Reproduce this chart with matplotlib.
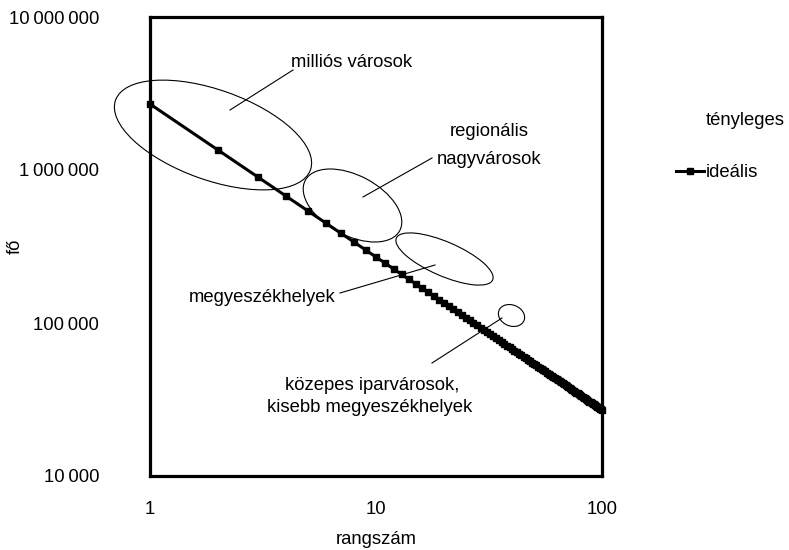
import matplotlib
matplotlib.use("Agg")
import matplotlib.pyplot as plt
from matplotlib.patches import Ellipse
from matplotlib.lines import Line2D
from matplotlib.ticker import FixedLocator, FixedFormatter, NullLocator

plt.rcParams['font.family'] = ['Liberation Sans', 'DejaVu Sans']

# ---- data -------------------------------------------------------------
rangszam = list(range(1, 101))
idealis = [
    2700000, 1350000, 900000, 675000, 540000, 450000, 385714, 337500, 300000, 270000,
    245455, 225000, 207692, 192857, 180000, 168750, 158824, 150000, 142105, 135000,
    128571, 122727, 117391, 112500, 108000, 103846, 100000, 96429, 93103, 90000,
    87097, 84375, 81818, 79412, 77143, 75000, 72973, 71053, 69231, 67500,
    65854, 64286, 62791, 61364, 60000, 58696, 57447, 56250, 55102, 54000,
    52941, 51923, 50943, 50000, 49091, 48214, 47368, 46552, 45763, 45000,
    44262, 43548, 42857, 42188, 41538, 40909, 40299, 39706, 39130, 38571,
    38028, 37500, 36986, 36486, 36000, 35526, 35065, 34615, 34177, 33750,
    33333, 32927, 32530, 32143, 31765, 31395, 31034, 30682, 30337, 30000,
    29670, 29348, 29032, 28723, 28421, 28125, 27835, 27551, 27273, 27000,
]
x_ticks = [1, 10, 100]
x_tick_labels = ["1", "10", "100"]
y_ticks = [10000, 100000, 1000000, 10000000]
y_tick_labels = ["10\u2009000", "100\u2009000", "1\u2009000\u2009000", "10\u2009000\u2009000"]
series_names = ["tényleges", "ideális"]

# ---- figure -----------------------------------------------------------
W, H = 789, 550
fig = plt.figure(figsize=(W / 100, H / 100), dpi=100)
ax = fig.add_axes([150 / W, (H - 476) / H, 452 / W, 459 / H])

FS = 13.3

ax.plot([], [], linestyle='none', marker='none', label=series_names[0])
ax.plot(rangszam, idealis, color='black', lw=2.2, marker='s', ms=4.3,
        markerfacecolor='black', markeredgecolor='black', label=series_names[1],
        clip_on=False, zorder=3)

ax.set_xscale('log')
ax.set_yscale('log')
ax.set_xlim(1, 100)
ax.set_ylim(1e4, 1e7)
ax.xaxis.set_major_locator(FixedLocator(x_ticks))
ax.xaxis.set_major_formatter(FixedFormatter(x_tick_labels))
ax.xaxis.set_minor_locator(NullLocator())
ax.yaxis.set_major_locator(FixedLocator(y_ticks))
ax.yaxis.set_major_formatter(FixedFormatter(y_tick_labels))
ax.yaxis.set_minor_locator(NullLocator())
ax.tick_params(axis='both', length=0, labelsize=FS)
ax.tick_params(axis='y', pad=36.5)
ax.tick_params(axis='x', pad=18)
for s in ax.spines.values():
    s.set_linewidth(2.3)
    s.set_zorder(4)

ax.set_xlabel("rangszám", fontsize=FS)
ax.xaxis.set_label_coords(0.5, (476 - 540) / 459)
ax.xaxis.label.set_va('center')
ax.set_ylabel("fő", fontsize=FS)
ax.yaxis.set_label_coords((15 - 150) / 452, 0.5)
ax.yaxis.label.set_va('center')

leg = ax.legend(loc='upper left', bbox_to_anchor=(676 / W, 1 - 112 / H),
                bbox_transform=fig.transFigure, frameon=False, fontsize=FS,
                handlelength=1.5, handletextpad=0.12, labelspacing=1.9,
                borderpad=0, borderaxespad=0)

# ---- annotations (figure pixel coordinates) ---------------------------
tr = fig.dpi_scale_trans


def P(x, y):
    return (x / 100, (H - y) / 100)


ellipses = [
    ((213, 135), 207, 90, -19.7),
    ((352.5, 205.5), 107, 60, -28),
    ((444.5, 259), 105, 34, -23.5),
    ((511.5, 315.5), 27, 21, -22),
]
for (c, w, h, a) in ellipses:
    fig.add_artist(Ellipse(P(*c), w / 100, h / 100, angle=a, transform=tr,
                           fill=False, lw=0.8, edgecolor='black', zorder=5))

leaders = [
    ((230, 110), (293, 70)),
    ((363, 197), (432, 158)),
    ((340, 293), (435, 265)),
    ((432, 363), (502, 318)),
]
for (p0, p1) in leaders:
    a0, a1 = P(*p0), P(*p1)
    fig.add_artist(Line2D([a0[0], a1[0]], [a0[1], a1[1]], transform=tr,
                          color='black', lw=0.8, zorder=5))

texts = [
    (352, 62, "milliós városok"),
    (489, 131, "regionális"),
    (489, 159, "nagyvárosok"),
    (262, 298, "megyeszékhelyek"),
    (372, 385, "közepes iparvárosok,"),
    (370, 408, "kisebb megyeszékhelyek"),
]
for (x, y, t) in texts:
    fig.text(x / W, 1 - y / H, t, ha='center', va='center', fontsize=FS)

fig.savefig("out.png", dpi=100)
